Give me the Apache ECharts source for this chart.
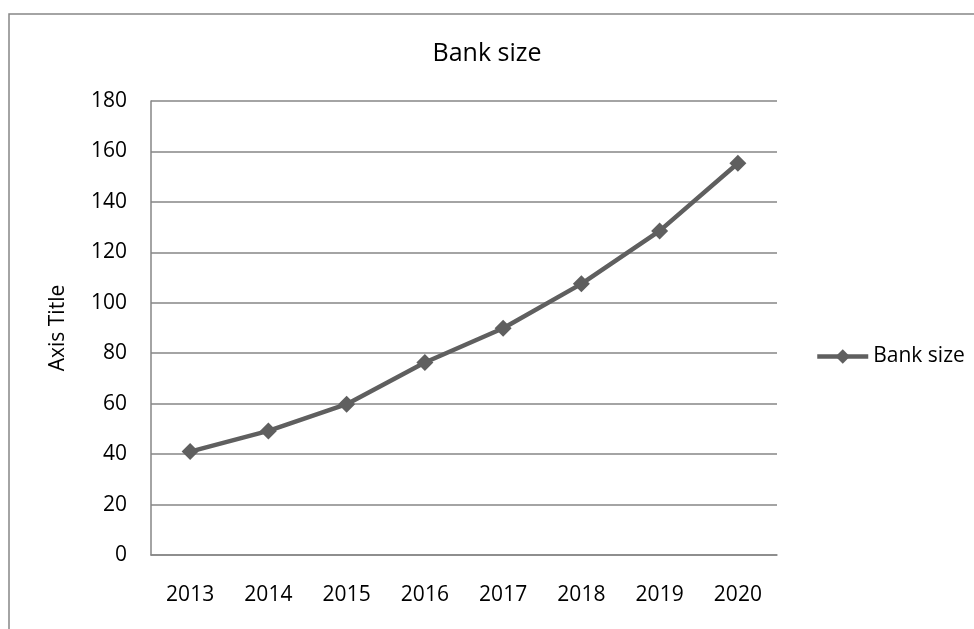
<!DOCTYPE html>
<html>
<head>
<meta charset="utf-8">
<script src="https://cdn.jsdelivr.net/npm/echarts@6/dist/echarts.min.js"></script>
<style>
  html, body { margin: 0; padding: 0; background: #fff; }
  #chart { width: 974px; height: 629px; }
</style>
</head>
<body>
<div id="chart"></div>
<script>
// 数据
const years = ['2013', '2014', '2015', '2016', '2017', '2018', '2019', '2020'];
const bankSize = [41.0, 49.2, 59.8, 76.3, 89.9, 107.5, 128.5, 155.3];
const seriesName = 'Bank size';

const FONT = "'Open Sans', 'Liberation Sans', sans-serif";
const GRAY = '#868686';
const LINE = '#5f5f5f';

const chart = echarts.init(document.getElementById('chart'), null, { renderer: 'canvas' });

chart.setOption({
  backgroundColor: '#ffffff',
  animation: false,
  textStyle: { fontFamily: FONT, color: '#000' },
  title: {
    text: 'Bank size',
    left: 'center',
    top: 36,
    textStyle: { fontFamily: FONT, fontSize: 25, fontWeight: 'normal', color: '#000' }
  },
  // 外框
  graphic: [{
    type: 'rect',
    shape: { x: 9, y: 14, width: 1100, height: 800 },
    style: { fill: 'none', stroke: GRAY, lineWidth: 1.5 },
    silent: true
  }],
  legend: {
    data: [seriesName],
    left: 815,
    top: 346,
    padding: 0,
    itemWidth: 51,
    itemHeight: 18,
    lineStyle: { width: 4.5, color: LINE },
    itemStyle: { color: LINE },
    textStyle: { fontFamily: FONT, fontSize: 21, color: '#000' }
  },
  grid: { left: 151, right: 197, top: 101, bottom: 74 },
  xAxis: {
    type: 'category',
    data: years,
    boundaryGap: true,
    axisLine: { lineStyle: { color: GRAY, width: 1.5 } },
    axisTick: { show: false },
    axisLabel: { fontFamily: FONT, fontSize: 21, color: '#000', margin: 30 }
  },
  yAxis: {
    type: 'value',
    min: 0,
    max: 180,
    interval: 20,
    name: 'Axis Title',
    nameLocation: 'middle',
    nameGap: 82,
    nameTextStyle: { fontFamily: FONT, fontSize: 21, color: '#000' },
    axisLine: { show: true, lineStyle: { color: GRAY, width: 1.5 } },
    axisTick: { show: false },
    axisLabel: { fontFamily: FONT, fontSize: 21, color: '#000', margin: 24 },
    splitLine: { lineStyle: { color: GRAY, width: 1.5 } }
  },
  series: [{
    name: seriesName,
    type: 'line',
    data: bankSize,
    symbol: 'diamond',
    symbolSize: 17,
    lineStyle: { color: LINE, width: 4.5 },
    itemStyle: { color: LINE }
  }]
});
</script>
</body>
</html>
